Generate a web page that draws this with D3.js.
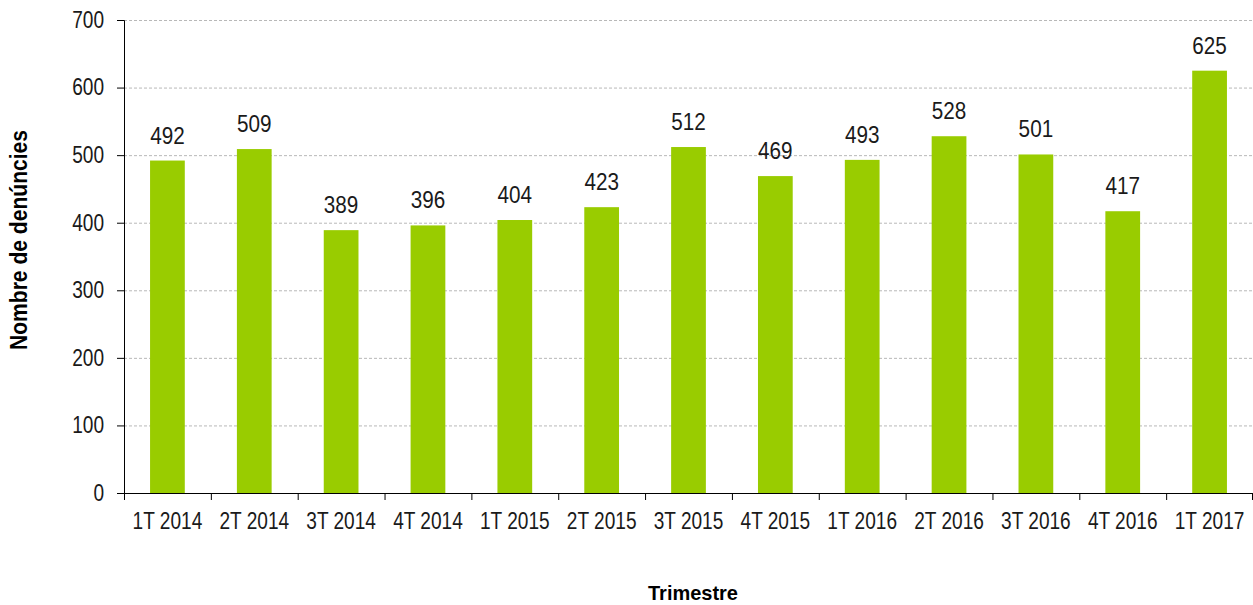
<!DOCTYPE html>
<html>
<head>
<meta charset="utf-8">
<script src="https://cdn.jsdelivr.net/npm/d3@7"></script>
<style>
  body { margin: 0; background: #fff; }
  svg text { font-family: "Liberation Sans", Arial, sans-serif; fill: #1a1a1a; }
  .axis-title { font-weight: bold; fill: #000; }
</style>
</head>
<body>
<div id="chart"></div>
<script>
var quarters = ["1T 2014", "2T 2014", "3T 2014", "4T 2014", "1T 2015", "2T 2015", "3T 2015",
                "4T 2015", "1T 2016", "2T 2016", "3T 2016", "4T 2016", "1T 2017"];
var complaints = [492, 509, 389, 396, 404, 423, 512, 469, 493, 528, 501, 417, 625];
var yTicks = [0, 100, 200, 300, 400, 500, 600, 700];

var margin = {top: 20, right: 0, bottom: 112, left: 124},
    width = 1253 - margin.left - margin.right,
    height = 605 - margin.top - margin.bottom;

// the original uses a condensed face, squeeze the regular one
var narrow = 0.83;

var svg = d3.select("#chart").append("svg")
    .attr("width", 1253)
    .attr("height", 605)
  .append("g")
    .attr("transform", "translate(" + margin.left + "," + margin.top + ")");

var x = d3.scaleBand()
    .domain(quarters)
    .range([0, width])
    .paddingInner(0.6)
    .paddingOuter(0.3);

var y = d3.scaleLinear()
    .domain([0, 700])
    .range([height, 0]);

// gridlines
svg.selectAll(".grid")
    .data(yTicks.slice(1))
  .enter().append("line")
    .attr("class", "grid")
    .attr("x1", 0)
    .attr("x2", width)
    .attr("y1", function(d) { return y(d) + 0.5; })
    .attr("y2", function(d) { return y(d) + 0.5; })
    .style("stroke", "#b8b8b8")
    .style("stroke-width", 1)
    .style("stroke-dasharray", "3,2");

svg.selectAll(".bar")
    .data(complaints)
  .enter().append("rect")
    .attr("class", "bar")
    .attr("x", function(d, i) { return x(quarters[i]); })
    .attr("width", x.bandwidth())
    .attr("y", function(d) { return y(d); })
    .attr("height", function(d) { return height - y(d); })
    .style("fill", "#99cc00");

svg.selectAll(".value")
    .data(complaints)
  .enter().append("text")
    .attr("class", "value")
    .attr("transform", function(d, i) {
      return "translate(" + (x(quarters[i]) + x.bandwidth() / 2) + "," + (y(d) - 17) + ") scale(0.9,1)";
    })
    .attr("text-anchor", "middle")
    .style("font-size", "23px")
    .text(function(d) { return d; });

// y axis
var yAxis = svg.append("g")
    .call(d3.axisLeft(y).tickValues(yTicks).tickSize(7).tickPadding(20));
yAxis.selectAll("text")
    .style("font-size", "23px")
    .attr("x", -20 / narrow)
    .attr("transform", "scale(" + narrow + ",1)");
yAxis.select(".domain").attr("d", "M-7,0.5H0.5V" + (height + 0.5));

// x axis, ticks between the bars
var xAxis = svg.append("g")
    .attr("transform", "translate(0," + height + ")")
    .call(d3.axisBottom(x).tickSize(0).tickPadding(20));
xAxis.selectAll("text")
    .style("font-size", "23px")
    .attr("dy", "0.71em")
    .attr("transform", "scale(" + narrow + ",1)");
xAxis.select(".domain").remove();

var step = x.step();
svg.append("line")
    .attr("x1", 0).attr("x2", width)
    .attr("y1", height + 0.5).attr("y2", height + 0.5)
    .style("stroke", "#000");
svg.selectAll(".xtick")
    .data(d3.range(quarters.length + 1))
  .enter().append("line")
    .attr("class", "xtick")
    .attr("x1", function(i) { return Math.min(i * step, width - 1) + 0.5; })
    .attr("x2", function(i) { return Math.min(i * step, width - 1) + 0.5; })
    .attr("y1", height)
    .attr("y2", height + 7)
    .style("stroke", "#000");

svg.append("text")
    .attr("class", "axis-title")
    .attr("transform", "translate(" + (27 - margin.left) + "," + (240 - margin.top) + ") rotate(-90)")
    .attr("text-anchor", "middle")
    .attr("textLength", 220)
    .attr("lengthAdjust", "spacingAndGlyphs")
    .style("font-size", "23px")
    .text("Nombre de denúncies");

svg.append("text")
    .attr("class", "axis-title")
    .attr("x", 693 - margin.left)
    .attr("y", 600 - margin.top)
    .attr("text-anchor", "middle")
    .attr("textLength", 90)
    .attr("lengthAdjust", "spacingAndGlyphs")
    .style("font-size", "21px")
    .text("Trimestre");
</script>
</body>
</html>
